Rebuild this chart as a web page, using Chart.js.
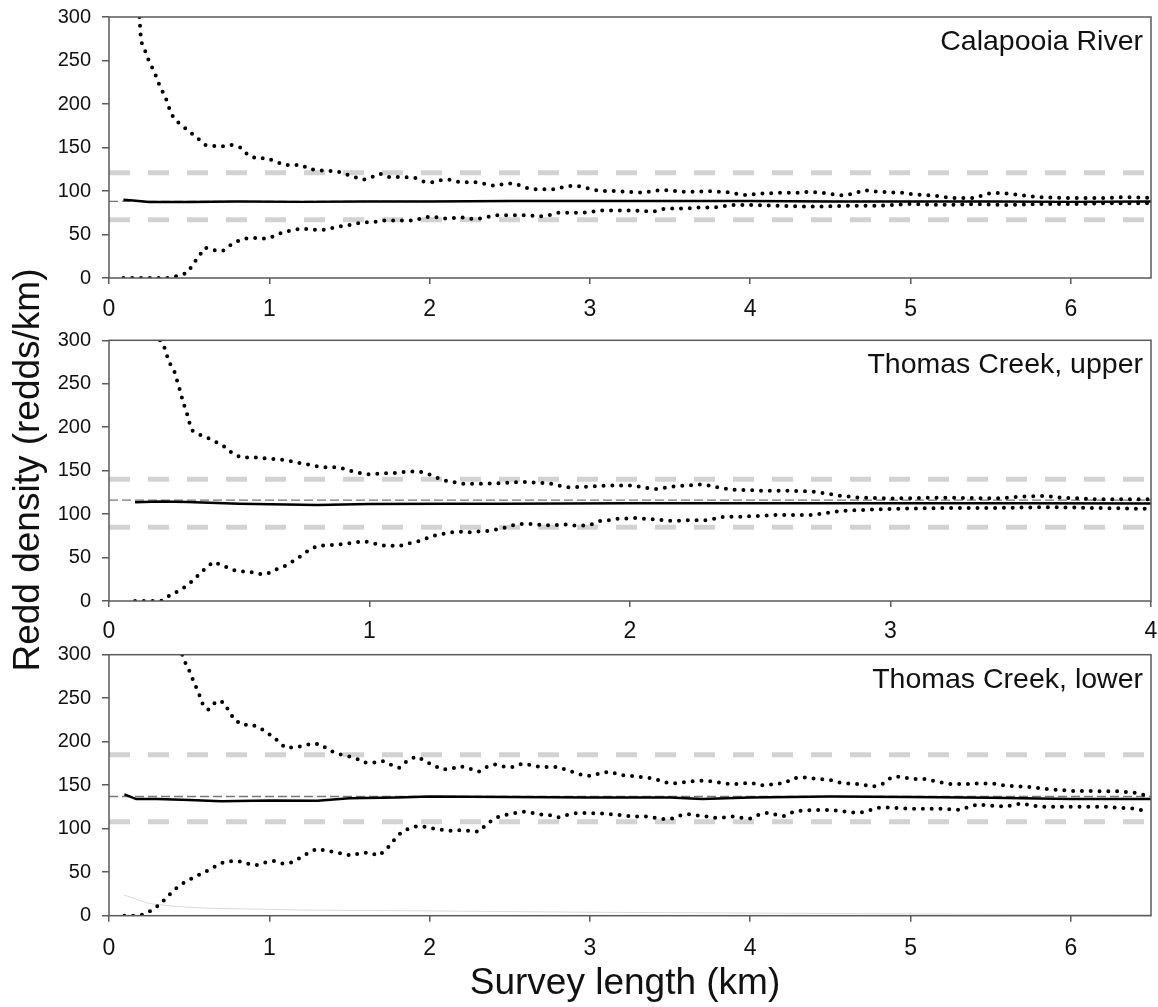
<!DOCTYPE html>
<html lang="en">
<head>
<meta charset="UTF-8">
<title>Redd density by survey length</title>
<script src="https://cdn.jsdelivr.net/npm/chart.js"></script>
<style>
  body { margin: 0; background: #fff; font-family: 'Liberation Sans', Arial, sans-serif; }
  #wrap { position: relative; width: 1158px; height: 1007px; overflow: hidden; }
  #wrap canvas { position: absolute; left: 0; }
  .axis-title { position: absolute; font-size: 37px; line-height: 36px; height: 36px; color: #111; white-space: nowrap; text-align: center; }
  #ytitle { width: 520px; left: -232.8px; top: 452px; transform: rotate(-90deg); }
  #xtitle { width: 500px; left: 375px; top: 964px; }
</style>
</head>
<body>
<div id="wrap">
  <canvas id="cal" width="1158" height="330" style="top:0px"></canvas>
  <canvas id="tcu" width="1158" height="320" style="top:330px"></canvas>
  <canvas id="tcl" width="1158" height="367" style="top:640px"></canvas>
  <div id="ytitle" class="axis-title">Redd density (redds/km)</div>
  <div id="xtitle" class="axis-title">Survey length (km)</div>
</div>

<script>
// ---- Calapooia River: [km, redds/km] ----
const calUpper = [[0.19,300],[0.2,272],[0.23,259],[0.25,249],[0.28,238],[0.3,229],[0.32,219],[0.35,209],[0.37,198],[0.39,188],[0.43,179],[0.49,170],[0.55,161],[0.6,153],[0.65,152],[0.7,151],[0.76,153],[0.82,150],[0.87,141],[0.93,137],[0.98,138],[1.04,134],[1.09,130],[1.15,130],[1.2,130],[1.25,125],[1.31,124],[1.36,123],[1.42,123],[1.48,119],[1.53,116],[1.59,113],[1.64,116],[1.69,120],[1.75,116],[1.85,116],[1.91,115],[1.96,111],[2.02,110],[2.08,113],[2.13,113],[2.19,110],[2.29,110],[2.35,108],[2.4,106],[2.46,108],[2.52,109],[2.57,106],[2.63,102],[2.79,102],[2.84,105],[2.9,106],[2.95,105],[3.01,102],[3.06,100],[3.17,100],[3.23,99],[3.33,98],[3.39,100],[3.45,101],[3.5,101],[3.56,99],[3.67,99],[3.72,100],[3.83,99],[3.88,98],[3.94,96],[3.99,95],[4.04,97],[4.1,97],[4.2,98],[4.3,98],[4.37,99],[4.45,98],[4.52,96],[4.58,95],[4.65,97],[4.71,101],[4.8,99],[4.95,98],[5.02,96],[5.14,95],[5.25,92],[5.4,92],[5.48,97],[5.53,98],[5.6,97],[5.7,95],[5.8,93],[6.0,92],[6.2,92],[6.35,93],[6.5,92]];
const calLower = [[0.09,0],[0.15,0],[0.2,0],[0.25,0],[0.31,0],[0.37,0],[0.42,2],[0.49,6],[0.52,14.5],[0.56,25],[0.6,35],[0.65,32],[0.71,31],[0.76,38],[0.82,44],[0.87,46],[0.93,46],[0.98,45],[1.03,48],[1.09,53],[1.15,55],[1.2,57],[1.25,56],[1.31,55],[1.37,56],[1.42,59],[1.48,60],[1.53,62],[1.59,64],[1.64,64],[1.7,66],[1.76,66],[1.86,66],[1.91,66],[1.97,70],[2.02,70.5],[2.08,68.5],[2.13,68.5],[2.19,70],[2.24,68.5],[2.29,67.5],[2.36,70],[2.41,72],[2.52,72],[2.63,72],[2.68,70.5],[2.74,72],[2.8,75],[2.96,75],[3.01,76],[3.07,77.5],[3.29,77.5],[3.39,76],[3.45,79],[3.5,80],[3.61,80],[3.66,81],[3.77,81],[3.83,82.5],[3.89,84],[4.0,84],[4.16,83],[4.4,82],[4.6,83],[4.8,83],[5.0,85],[5.2,84],[5.4,85],[5.6,84],[5.8,85],[6.0,85],[6.2,86],[6.5,86]];
const calMean = [[0.09,90],[0.15,89],[0.25,87.5],[0.5,87.5],[0.8,88],[1.2,87.5],[1.6,88],[2.0,88],[2.5,88.5],[3.0,88.5],[3.5,88.5],[4.0,88.5],[4.5,88],[5.0,88],[5.5,88],[6.0,87.5],[6.5,88]];
const calBand = [67, 121];
const calRef = 88;

// ---- Thomas Creek, upper ----
const tcuUpper = [[0.196,300],[0.21,294],[0.22,285],[0.23,275],[0.25,265],[0.26,255],[0.27,245],[0.28,234],[0.29,224],[0.3,215],[0.31,204],[0.32,196],[0.344,192],[0.377,188],[0.41,183],[0.447,177],[0.477,169],[0.512,165],[0.545,165],[0.577,165],[0.61,164],[0.646,163],[0.68,162],[0.713,160],[0.747,158],[0.78,156],[0.815,154],[0.848,154],[0.88,154],[0.916,151],[0.948,148],[0.983,146],[1.017,146],[1.05,147],[1.088,147],[1.12,148],[1.153,149],[1.187,149],[1.22,147],[1.25,143],[1.284,139],[1.32,137],[1.354,135],[1.45,135],[1.52,136],[1.59,137],[1.66,136],[1.7,135],[1.725,133],[1.76,131],[1.79,131],[1.86,132],[1.93,133],[2.0,133],[2.03,132],[2.064,130],[2.1,129],[2.13,130],[2.17,132],[2.23,133],[2.266,134],[2.3,133],[2.333,131],[2.37,129],[2.4,128],[2.5,127],[2.6,127],[2.7,126],[2.735,124.5],[2.77,123],[2.806,121],[2.85,120],[2.88,119],[3.0,118],[3.2,119],[3.4,118],[3.5,120],[3.6,121],[3.65,119],[3.8,117],[4.0,117]];
const tcuLower = [[0.1,0],[0.13,0],[0.17,0],[0.2,0],[0.234,6.5],[0.269,12],[0.302,18],[0.337,28],[0.368,37],[0.4,45],[0.436,41],[0.471,36],[0.502,34],[0.537,34],[0.571,31],[0.605,31],[0.638,36],[0.673,40],[0.707,46],[0.74,52.5],[0.774,60],[0.81,64],[0.845,64],[0.88,65],[0.91,66],[0.943,67],[0.976,69],[1.01,67],[1.044,64],[1.079,64],[1.113,63],[1.145,66],[1.18,68],[1.21,71],[1.245,75],[1.278,77],[1.31,79],[1.345,80],[1.38,79],[1.414,80],[1.45,80.5],[1.48,82],[1.516,84],[1.55,87],[1.584,88.6],[1.62,88.6],[1.68,87],[1.75,88],[1.78,87],[1.82,87],[1.85,88],[1.885,92],[1.92,93],[1.95,94.6],[2.02,95.4],[2.09,94],[2.15,92.3],[2.19,92.3],[2.22,93],[2.29,93],[2.33,95],[2.36,97],[2.43,97],[2.5,98],[2.57,99],[2.7,99],[2.79,103],[2.84,104],[2.87,104.5],[3.0,106],[3.2,107],[3.4,107],[3.6,108],[3.8,107],[4.0,106]];
const tcuMean = [[0.1,113.5],[0.2,114.5],[0.3,114],[0.5,112],[0.8,110.5],[1.0,111.5],[1.3,112],[1.5,112],[2.0,112.5],[2.5,112.5],[3.0,112.5],[3.5,112.5],[4.0,112.3]];
const tcuBand = [85, 140];
const tcuRef = 116;

// ---- Thomas Creek, lower ----
const tclUpper = [[0.457,300],[0.478,290],[0.5,282],[0.522,272],[0.547,261],[0.568,252],[0.589,241],[0.62,237],[0.672,247],[0.718,245],[0.75,234.5],[0.784,225],[0.834,219],[0.884,220],[0.938,216],[0.99,210],[1.046,202],[1.1,193],[1.156,193.5],[1.208,195],[1.264,198],[1.32,197],[1.374,190],[1.43,186],[1.48,184],[1.54,181],[1.593,176],[1.65,176],[1.705,178],[1.764,173],[1.81,170],[1.867,179],[1.92,183],[1.97,178],[2.02,173],[2.08,168],[2.14,169],[2.19,172],[2.25,169],[2.306,165.5],[2.356,171],[2.41,174],[2.47,171],[2.52,171],[2.58,175],[2.637,173],[2.69,171],[2.8,171],[2.855,167.5],[2.91,164],[2.963,161],[3.017,161],[3.07,164.4],[3.126,165.5],[3.18,162],[3.236,161],[3.29,160],[3.35,159],[3.4,157.5],[3.454,154],[3.506,152],[3.56,152.6],[3.616,154],[3.676,155],[3.73,155],[3.78,154],[3.84,152],[3.89,151],[3.95,152],[4.003,153],[4.057,150],[4.11,150],[4.165,152],[4.21,152],[4.27,158],[4.33,159],[4.384,158],[4.435,157],[4.5,156],[4.56,153],[4.61,152],[4.664,151.4],[4.716,150],[4.768,148.3],[4.83,152],[4.88,159],[4.934,160],[4.986,158],[5.04,157],[5.09,157],[5.14,155],[5.2,153],[5.25,151.4],[5.36,151.4],[5.41,152],[5.47,152],[5.54,151.4],[5.59,149.6],[5.64,149],[5.7,148.3],[5.75,148],[5.81,146.4],[5.87,145.3],[5.92,144.5],[6.02,143.4],[6.3,143],[6.35,142],[6.4,141.3],[6.46,138.7]];
const tclLower = [[0.096,0],[0.15,0],[0.2,0.7],[0.266,6],[0.32,13.4],[0.37,23],[0.422,32],[0.476,39],[0.53,44],[0.584,49],[0.638,54],[0.692,60],[0.746,62.5],[0.803,63],[0.859,60],[0.915,58],[0.969,61],[1.025,63],[1.077,60],[1.133,61],[1.187,66],[1.243,72],[1.297,77],[1.35,75],[1.405,73],[1.46,71],[1.515,69],[1.57,72],[1.628,72.5],[1.68,69],[1.728,75.5],[1.774,86],[1.82,95],[1.867,100],[1.923,103],[1.977,102],[2.03,100],[2.086,98.5],[2.14,97.4],[2.196,98.5],[2.25,97.4],[2.306,96.6],[2.36,106],[2.418,113],[2.47,115.7],[2.526,117.7],[2.584,119.5],[2.636,118.3],[2.69,116.5],[2.747,115.7],[2.8,113],[2.855,115.7],[2.91,117.7],[2.963,118],[3.02,117.7],[3.07,117.7],[3.13,116.5],[3.18,115.7],[3.24,114.6],[3.29,114],[3.35,114],[3.406,112.6],[3.46,111],[3.516,111.7],[3.57,115.7],[3.62,116.5],[3.68,115],[3.734,114],[3.786,112.3],[3.84,113],[3.894,114],[3.95,112.6],[4.0,111.7],[4.06,116.5],[4.116,118.4],[4.17,115.7],[4.21,114.6],[4.27,119.5],[4.33,121],[4.39,121.5],[4.5,121.5],[4.56,120.3],[4.61,119.2],[4.66,118.3],[4.72,119.5],[4.78,123.4],[4.83,124.6],[5.0,123],[5.2,123],[5.31,121.5],[5.37,125.3],[5.42,128],[5.475,126.6],[5.54,126.2],[5.59,125.3],[5.64,127.2],[5.7,129.2],[5.75,126.6],[5.81,125.3],[6.2,125.3],[6.3,124.2],[6.4,123],[6.47,120.3]];
const tclMean = [[0.096,139.5],[0.17,134],[0.3,134],[0.5,133],[0.7,131.5],[1.0,132.5],[1.3,132],[1.5,135],[1.8,136],[2.0,137],[2.5,136.5],[3.0,136],[3.5,136],[3.7,134],[4.0,136],[4.5,137],[5.0,136.5],[5.5,135.5],[6.0,134],[6.5,134]];
const tclFaint = [[0.09,24],[0.25,14],[0.42,10.5],[0.63,8.5],[0.94,7.5],[1.2,6.5],[2.0,5.5],[3.0,4],[4.0,3],[5.0,2],[6.5,1]];
const tclBand = [108, 185];
const tclRef = 137;

const yTicks = [0, 50, 100, 150, 200, 250, 300];

const FONT = "'Liberation Sans', Arial, sans-serif";

function toPoints(pairs) {
    return pairs.map(p => ({ x: p[0], y: p[1] }));
}

function flatLine(y, xMax) {
    return [{ x: 0, y: y }, { x: xMax, y: y }];
}

// box round the plot area and the stream name in the corner
const panelFrame = {
    id: 'panelFrame',
    afterDatasetsDraw(chart, args, opts) {
        const ctx = chart.ctx;
        const a = chart.chartArea;
        ctx.save();
        ctx.strokeStyle = '#5a5a5a';
        ctx.lineWidth = 1.5;
        ctx.strokeRect(a.left, a.top, a.right - a.left, a.bottom - a.top);
        ctx.fillStyle = '#111';
        ctx.font = '28.5px ' + FONT;
        ctx.textAlign = 'right';
        ctx.textBaseline = 'alphabetic';
        ctx.fillText(opts.text, a.right - 8, a.top + 33);
        ctx.restore();
    }
};

function makePanel(id, p) {
    const datasets = [
        { data: toPoints(p.upper), borderColor: '#000', borderWidth: 4, borderDash: [0, 8.8], borderCapStyle: 'round', order: 0 },
        { data: toPoints(p.lower), borderColor: '#000', borderWidth: 4, borderDash: [0, 8.8], borderCapStyle: 'round', order: 0 },
        { data: toPoints(p.mean), borderColor: '#000', borderWidth: 2.5, order: 1 },
        { data: flatLine(p.ref, p.xMax), borderColor: '#777', borderWidth: 1.3, borderDash: [9, 4], order: 2 },
        { data: flatLine(p.band[0], p.xMax), borderColor: '#d2d2d2', borderWidth: 5, borderDash: [21, 18], order: 3 },
        { data: flatLine(p.band[1], p.xMax), borderColor: '#d2d2d2', borderWidth: 5, borderDash: [21, 18], order: 3 }
    ];
    if (p.faint) {
        datasets.push({ data: toPoints(p.faint), borderColor: '#dadada', borderWidth: 1, order: 4 });
    }

    new Chart(document.getElementById(id), {
        type: 'line',
        data: { datasets: datasets },
        options: {
            responsive: false,
            animation: false,
            events: [],
            layout: { padding: { top: p.padTop, right: 7, left: 0, bottom: 0 } },
            elements: {
                point: { radius: 0 },
                line: { tension: 0, fill: false }
            },
            plugins: {
                legend: { display: false },
                tooltip: { enabled: false },
                panelFrame: { text: p.label }
            },
            scales: {
                x: {
                    type: 'linear',
                    min: 0,
                    max: p.xMax,
                    afterFit: s => {
                        s.height = p.xAxisHeight;
                        s.paddingLeft = 0;
                        s.paddingRight = 0;
                    },
                    border: { display: false },
                    grid: { drawOnChartArea: false, tickLength: 6, color: '#5a5a5a', lineWidth: 1.5 },
                    ticks: {
                        stepSize: 1,
                        includeBounds: false,
                        padding: p.xPad,
                        color: '#111',
                        font: { family: FONT, size: 23 }
                    }
                },
                y: {
                    min: 0,
                    max: 300,
                    // fixed axis width and no extra room for the end labels
                    afterFit: s => {
                        s.width = 109;
                        s.paddingTop = 0;
                        s.paddingBottom = 0;
                    },
                    afterBuildTicks: s => { s.ticks = yTicks.map(v => ({ value: v })); },
                    border: { display: false },
                    grid: { drawOnChartArea: false, tickLength: 7, color: '#5a5a5a', lineWidth: 1.5 },
                    ticks: {
                        padding: 11,
                        color: '#111',
                        font: { family: FONT, size: 20 }
                    }
                }
            }
        },
        plugins: [panelFrame]
    });
}

makePanel('cal', {
    label: 'Calapooia River', xMax: 6.5, padTop: 17, xAxisHeight: 52, xPad: 12,
    upper: calUpper, lower: calLower, mean: calMean, band: calBand, ref: calRef
});

makePanel('tcu', {
    label: 'Thomas Creek, upper', xMax: 4, padTop: 10.3, xAxisHeight: 49, xPad: 10.5,
    upper: tcuUpper, lower: tcuLower, mean: tcuMean, band: tcuBand, ref: tcuRef
});

makePanel('tcl', {
    label: 'Thomas Creek, lower', xMax: 6.5, padTop: 14.7, xAxisHeight: 91.3, xPad: 13,
    upper: tclUpper, lower: tclLower, mean: tclMean, band: tclBand, ref: tclRef, faint: tclFaint
});
</script>
</body>
</html>
